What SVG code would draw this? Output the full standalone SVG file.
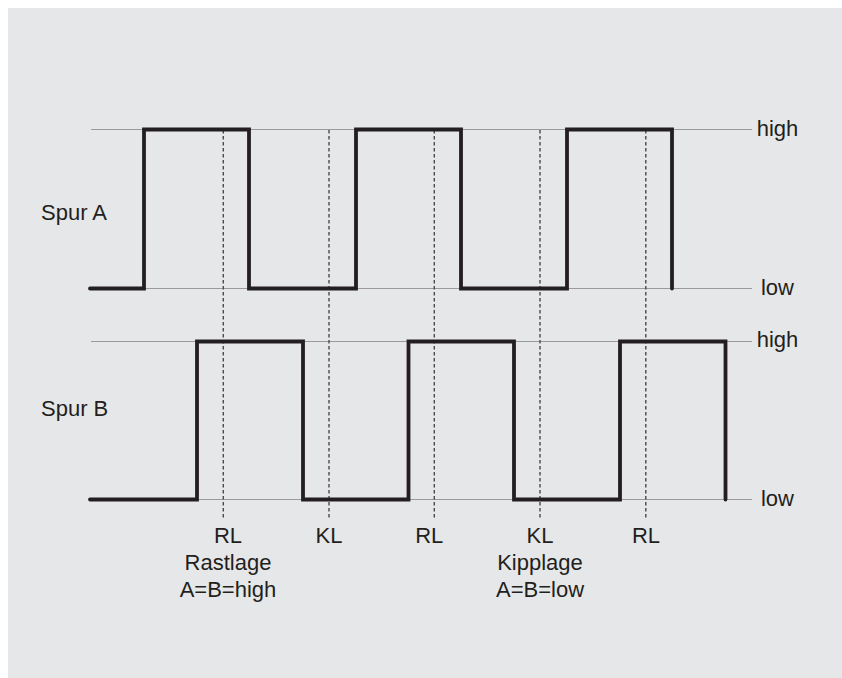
<svg xmlns="http://www.w3.org/2000/svg" width="842" height="678" viewBox="0 0 842 678">
<style>
.bg{fill:#e6e7e8}
.grid{stroke:#9a9a9a;stroke-width:1.2;fill:none}
.wave{stroke:#231f20;stroke-width:3.8;fill:none;stroke-linecap:round;stroke-linejoin:miter}
.dash{stroke:#4a4a4a;stroke-width:1.4;stroke-dasharray:3.5 2.5;fill:none}
text{font-family:"Liberation Sans",Arial,sans-serif;font-size:22px;fill:#231f20}
.c{text-anchor:middle}
</style>
<rect class="bg" x="8" y="8" width="834" height="670"/>
<g id="gridlines">
<line class="grid" x1="91" y1="129.5" x2="752" y2="129.5"/>
<line class="grid" x1="91" y1="288.5" x2="752" y2="288.5"/>
<line class="grid" x1="91" y1="341.5" x2="752" y2="341.5"/>
<line class="grid" x1="91" y1="499.5" x2="752" y2="499.5"/>
</g>
<g id="markers">
<line class="dash" x1="223.3" y1="130" x2="223.3" y2="519"/>
<line class="dash" x1="329" y1="130" x2="329" y2="519"/>
<line class="dash" x1="434.3" y1="130" x2="434.3" y2="519"/>
<line class="dash" x1="540" y1="130" x2="540" y2="519"/>
<line class="dash" x1="645.8" y1="130" x2="645.8" y2="519"/>
</g>
<g id="spurA">
<path class="wave" d="M90,288.5 H144 V129.5 H249 V288.5 H356 V129.5 H461 V288.5 H567 V129.5 H672 V288.5"/>
<text x="41" y="220">Spur A</text>
</g>
<g id="spurB">
<path class="wave" d="M90,499.5 H197 V341.5 H303 V499.5 H408.5 V341.5 H514 V499.5 H620 V341.5 H725.5 V499.5"/>
<text x="41" y="415.5">Spur B</text>
</g>
<g id="levels">
<text class="c" x="777.5" y="136">high</text>
<text class="c" x="777.5" y="295">low</text>
<text class="c" x="777.5" y="347">high</text>
<text class="c" x="777.5" y="505.5">low</text>
</g>
<g id="labels">
<text class="c" x="228" y="542.7">RL</text>
<text class="c" x="329" y="542.7">KL</text>
<text class="c" x="429.3" y="542.7">RL</text>
<text class="c" x="540" y="542.7">KL</text>
<text class="c" x="646" y="542.7">RL</text>
<text class="c" x="228" y="570">Rastlage</text>
<text class="c" x="228" y="596.7">A=B=high</text>
<text class="c" x="540" y="569.5">Kipplage</text>
<text class="c" x="540" y="596.7">A=B=low</text>
</g>
</svg>
